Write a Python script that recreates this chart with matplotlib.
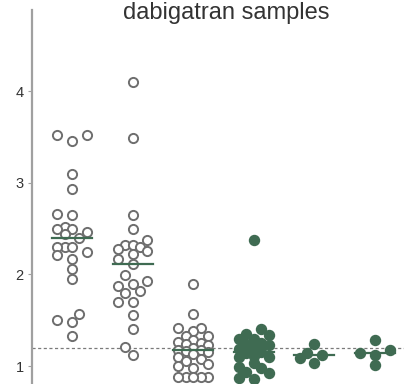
import numpy as np
import matplotlib
matplotlib.use("Agg")
import matplotlib.pyplot as plt

plt.rcParams['font.family'] = ['Liberation Sans', 'DejaVu Sans']

# ratio values per sample group
g1 = [3.52, 3.52, 3.45, 3.09, 2.93, 2.66, 2.65, 2.52, 2.50, 2.50, 2.46, 2.44,
      2.40, 2.30, 2.30, 2.30, 2.24, 2.21, 2.17, 2.06, 1.95, 1.57, 1.50, 1.48, 1.33]
g2 = [4.10, 3.49, 2.65, 2.50, 2.37, 2.32, 2.32, 2.30, 2.28, 2.25, 2.22, 2.17,
      2.11, 1.99, 1.93, 1.90, 1.87, 1.82, 1.80, 1.70, 1.70, 1.56, 1.40, 1.21, 1.12]
g3 = [1.90, 1.57, 1.42, 1.42, 1.38, 1.33, 1.33, 1.28, 1.26, 1.25, 1.24, 1.23,
      1.20, 1.18, 1.17, 1.16, 1.15, 1.13, 1.10, 1.08, 1.05, 1.02, 1.00, 0.98,
      0.88, 0.88, 0.88, 0.88, 0.88]
g4 = [2.37, 1.40, 1.35, 1.34, 1.30, 1.29, 1.25, 1.24, 1.23, 1.20, 1.19, 1.15,
      1.14, 1.11, 1.10, 1.10, 1.03, 0.99, 0.98, 0.93, 0.92, 0.87, 0.86]
g5 = [1.24, 1.12, 1.14, 1.09, 1.03]
g6 = [1.28, 1.18, 1.14, 1.12, 1.01]
groups = [g1, g2, g3, g4, g5, g6]
filled = [False, False, False, True, True, True]
cutoff = 1.2
yticks = [1, 2, 3, 4]

W, H = 404, 384
fig = plt.figure(figsize=(W / 100, H / 100), dpi=100)
ax = fig.add_axes([32 / W, 0, 1 - 32 / W, (H - 10) / H])
ax.set_xlim(0.34, 6.48)
ax.set_ylim(0.804, 4.884)

# pixel scale of the data units, used for the swarm layout
px_x = (W - 32) / (6.48 - 0.34)
px_y = (H - 10) / (4.884 - 0.804)


def swarm(vals, diam=10.0, step=7.4, nmax=2):
    # column scatter: try slots from the centre out, take the first free one,
    # otherwise the slot with the most room
    order = np.argsort(vals)
    placed = []
    offs = np.zeros(len(vals))
    cands = [0.0]
    for k in range(1, nmax + 1):
        cands += [-k * step, k * step]
    for i in order:
        y = vals[i] * px_y
        best, best_d = 0.0, -1.0
        for c in cands:
            d = min([np.hypot(c - px, y - py) for px, py in placed] or [1e9])
            if d >= diam:
                best = c
                break
            if d > best_d + 0.5:
                best, best_d = c, d
        placed.append((best, y))
        offs[i] = best / px_x
    return offs


green = '#3f6b52'
for i, (vals, fill) in enumerate(zip(groups, filled)):
    vals = np.array(vals)
    x = i + 1 + swarm(vals)
    if fill:
        ax.plot(x, vals, 'o', ms=7.2, mfc=green, mec=green, mew=1.0, ls='none', zorder=3)
    else:
        ax.plot(x, vals, 'o', ms=6.6, mfc='white', mec='#6e6e6e', mew=1.4, ls='none', zorder=3)
    med = np.median(vals)
    ax.plot([i + 1 - 0.33, i + 1 + 0.33], [med, med], color=green, lw=1.6, zorder=4)

ax.axhline(cutoff, color='#7a7a7a', lw=0.9, ls=(0, (2.5, 2)), zorder=2)

for s in ['top', 'right', 'bottom']:
    ax.spines[s].set_visible(False)
ax.spines['left'].set_color('#a0a0a0')
ax.spines['left'].set_linewidth(1.6)
ax.set_xticks([])
ax.set_yticks(yticks)
ax.set_yticklabels([str(t) for t in yticks])
ax.tick_params(axis='y', length=3, width=0.8, color='#a0a0a0', pad=3,
               labelsize=10.5, labelcolor='#333333')
ax.patch.set_alpha(0)

fig.text(226 / W, 1 - 19 / H, 'dabigatran samples', ha='center', va='baseline',
         fontsize=17, color='#333333')

fig.savefig('out.png', dpi=100)
